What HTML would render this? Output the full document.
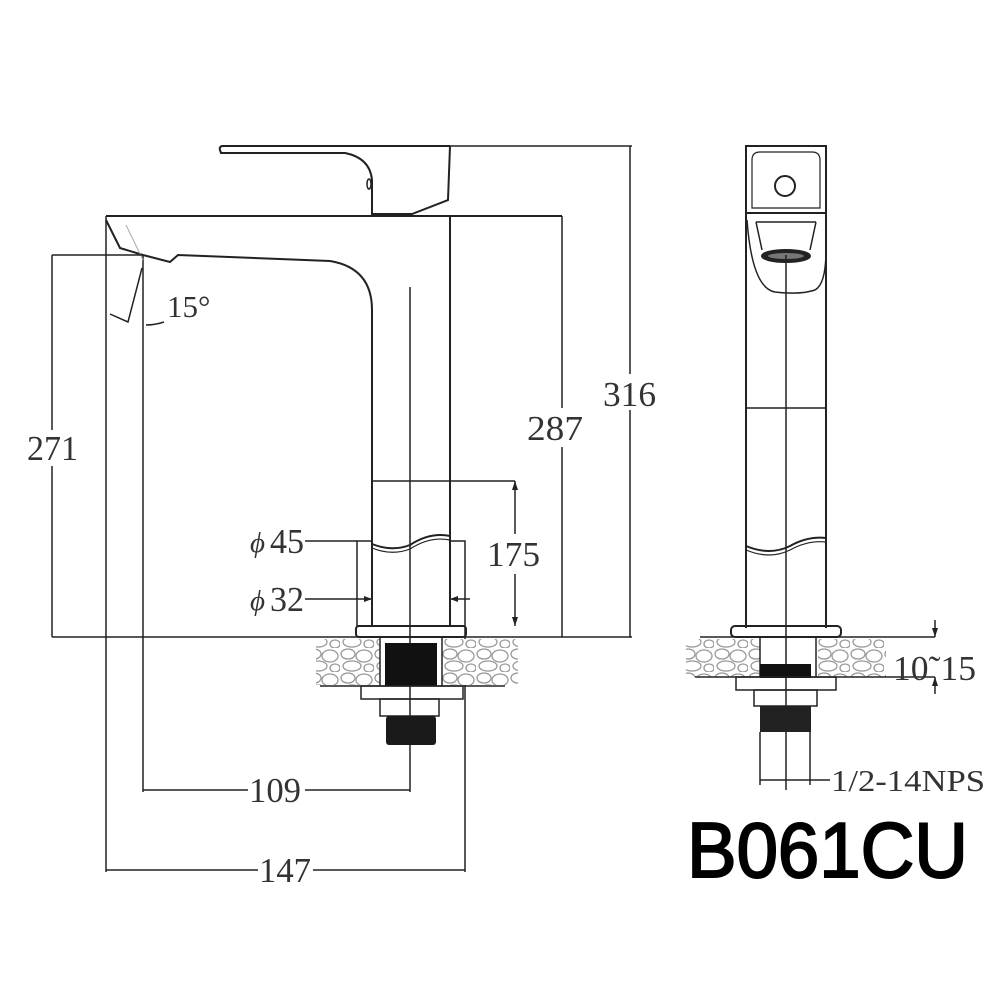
<!DOCTYPE html>
<html><head><meta charset="utf-8"><style>
html,body{margin:0;padding:0;background:#fff;}
svg{display:block}
text{font-family:"Liberation Serif",serif;fill:#333}
</style></head><body>
<svg width="1000" height="1000" viewBox="0 0 1000 1000" xmlns="http://www.w3.org/2000/svg">
<defs>
<pattern id="stone" width="34" height="24" patternUnits="userSpaceOnUse">
<rect width="34" height="24" fill="#fff"/>
<g fill="none" stroke="#999" stroke-width="1.3">
<ellipse cx="8" cy="6" rx="7" ry="5"/>
<ellipse cx="24" cy="8" rx="8" ry="6"/>
<ellipse cx="12" cy="18" rx="9" ry="5"/>
<ellipse cx="29" cy="20" rx="5" ry="4"/>
</g>
</pattern>
</defs>
<g stroke="#222" stroke-width="2" fill="none">
<path d="M450,146 L222,146 Q219,147 220,150 L221,153 L345,153 Q370,158 372,180 L372,214 L412,214 L448,200 L450,146"/>
<ellipse cx="369" cy="184" rx="2" ry="5" stroke-width="1.5"/>
<line x1="450" y1="146" x2="632" y2="146" stroke-width="1.5"/>
<line x1="106" y1="216" x2="562" y2="216"/>
<line x1="106" y1="216" x2="106" y2="872" stroke-width="1.5"/>
<line x1="450" y1="216" x2="450" y2="626"/>
<path d="M106,220 L120,248 L143,255 L170,262 L178,255 L330,261 Q372,268 372,310 L372,626"/>
<line x1="143" y1="255" x2="143" y2="792" stroke-width="1.5"/>
<line x1="126" y1="225" x2="143" y2="260" stroke="#aaa" stroke-width="1"/>
<path d="M142,268 L128,322 L110,314" stroke-width="1.5"/>
<path d="M146,325 Q155,325 164,322" stroke-width="1.5"/>
<line x1="410" y1="287" x2="410" y2="792" stroke-width="1.5"/>
<line x1="52" y1="255" x2="143" y2="255" stroke-width="1.5"/>
<line x1="52" y1="255" x2="52" y2="430" stroke-width="1.5"/>
<line x1="52" y1="466" x2="52" y2="637" stroke-width="1.5"/>
<line x1="52" y1="637" x2="632" y2="637" stroke-width="1.5"/>
<line x1="562" y1="216" x2="562" y2="408" stroke-width="1.5"/>
<line x1="562" y1="447" x2="562" y2="637" stroke-width="1.5"/>
<line x1="630" y1="146" x2="630" y2="374" stroke-width="1.5"/>
<line x1="630" y1="410" x2="630" y2="637" stroke-width="1.5"/>
<line x1="372" y1="481" x2="515" y2="481" stroke-width="1.5"/>
<line x1="515" y1="481" x2="515" y2="534" stroke-width="1.5"/>
<line x1="515" y1="574" x2="515" y2="626" stroke-width="1.5"/>
<path d="M372,544 Q392,552 410,545 Q430,532 450,536" stroke-width="2"/>
<path d="M372,548 Q392,556 410,549 Q430,536 450,540" stroke-width="1.2"/>
<path d="M357,626 L357,541 L372,541 M450,541 L465,541 L465,872" stroke-width="1.5"/>
<line x1="305" y1="541" x2="357" y2="541" stroke-width="1.5"/>
<line x1="305" y1="599" x2="372" y2="599" stroke-width="1.5"/>
<line x1="450" y1="599" x2="470" y2="599" stroke-width="1.5"/>
<rect x="356" y="626" width="110" height="11" rx="3"/>
<rect x="316" y="639" width="64" height="46" fill="url(#stone)" stroke="none"/>
<rect x="442" y="639" width="76" height="46" fill="url(#stone)" stroke="none"/>
<line x1="320" y1="686" x2="505" y2="686" stroke-width="1.5"/>
<line x1="380" y1="637" x2="380" y2="686" stroke-width="1.5"/>
<line x1="442" y1="637" x2="442" y2="686" stroke-width="1.5"/>
<rect x="385" y="643" width="52" height="43" fill="#111" stroke="none"/>
<rect x="361" y="686" width="102" height="13" stroke-width="1.5"/>
<rect x="380" y="699" width="59" height="17" stroke-width="1.5"/>
<rect x="386" y="716" width="50" height="29" rx="3" fill="#1a1a1a" stroke="none"/>
<line x1="143" y1="790" x2="248" y2="790" stroke-width="1.5"/>
<line x1="305" y1="790" x2="410" y2="790" stroke-width="1.5"/>
<line x1="106" y1="870" x2="258" y2="870" stroke-width="1.5"/>
<line x1="313" y1="870" x2="465" y2="870" stroke-width="1.5"/>

<rect x="746" y="146" width="80" height="67"/>
<path d="M752,160 Q752,152 760,152 L812,152 Q820,152 820,160 L820,208 L752,208 Z" stroke-width="1.2"/>
<circle cx="785" cy="186" r="10"/>
<line x1="746" y1="213" x2="746" y2="628"/>
<line x1="826" y1="213" x2="826" y2="628"/>
<path d="M747,220 Q752,288 775,292 Q800,295 815,290 Q826,284 826,250" stroke-width="1.5"/>
<path d="M756,222 L762,250 M816,222 L810,250 M756,222 L816,222" stroke-width="1.5"/>
<ellipse cx="786" cy="256" rx="24" ry="6" fill="#222"/>
<ellipse cx="786" cy="256" rx="18" ry="3" fill="#777" stroke="none"/>
<line x1="786" y1="255" x2="786" y2="790" stroke-width="1.5"/>
<line x1="746" y1="408" x2="826" y2="408" stroke-width="1.5"/>
<path d="M746,546 Q770,556 790,546 Q808,536 826,538" stroke-width="2"/>
<path d="M746,550 Q770,560 790,550 Q808,540 826,542" stroke-width="1.2"/>
<rect x="731" y="626" width="110" height="11" rx="4"/>
<rect x="686" y="639" width="74" height="38" fill="url(#stone)" stroke="none"/>
<rect x="818" y="639" width="68" height="38" fill="url(#stone)" stroke="none"/>
<line x1="700" y1="637" x2="935" y2="637" stroke-width="1.5"/>
<line x1="695" y1="677" x2="935" y2="677" stroke-width="1.5"/>
<line x1="760" y1="637" x2="760" y2="677" stroke-width="1.5"/>
<line x1="816" y1="637" x2="816" y2="677" stroke-width="1.5"/>
<rect x="760" y="664" width="51" height="14" fill="#111" stroke="none"/>
<rect x="736" y="677" width="100" height="13" stroke-width="1.5"/>
<rect x="754" y="690" width="63" height="16" stroke-width="1.5"/>
<rect x="760" y="706" width="51" height="26" fill="#222" stroke="none"/>
<line x1="760" y1="732" x2="760" y2="785" stroke-width="1.5"/>
<line x1="810" y1="732" x2="810" y2="785" stroke-width="1.5"/>
<line x1="760" y1="780" x2="830" y2="780" stroke-width="1.5"/>
<line x1="935" y1="620" x2="935" y2="637" stroke-width="1.5"/>
<line x1="935" y1="677" x2="935" y2="694" stroke-width="1.5"/>
</g>
<g fill="#222">
<path d="M935,637 L932,628 L938,628 Z"/>
<path d="M935,677 L932,686 L938,686 Z"/>
<path d="M515,481 L512,490 L518,490 Z"/>
<path d="M515,626 L512,617 L518,617 Z"/>
<path d="M372,599 L364,596 L364,602 Z"/>
<path d="M450,599 L458,596 L458,602 Z"/>
</g>
<g font-size="35">
<text x="167" y="317" font-size="31">15°</text>
<text x="27" y="460" textLength="51" lengthAdjust="spacingAndGlyphs">271</text>
<text x="527" y="440" textLength="56" lengthAdjust="spacingAndGlyphs">287</text>
<text x="603" y="406" textLength="53" lengthAdjust="spacingAndGlyphs">316</text>
<text x="487" y="566" textLength="53" lengthAdjust="spacingAndGlyphs">175</text>
<text x="250" y="552" font-size="29" font-style="italic">ϕ</text><text x="270" y="553" textLength="34" lengthAdjust="spacingAndGlyphs">45</text>
<text x="250" y="610" font-size="29" font-style="italic">ϕ</text><text x="270" y="611" textLength="34" lengthAdjust="spacingAndGlyphs">32</text>
<text x="249" y="802" textLength="52" lengthAdjust="spacingAndGlyphs">109</text>
<text x="259" y="882" textLength="52" lengthAdjust="spacingAndGlyphs">147</text>
<text x="893" y="680" textLength="83" lengthAdjust="spacingAndGlyphs">10˜15</text>
<text x="831" y="791" font-size="31" textLength="154" lengthAdjust="spacingAndGlyphs">1/2-14NPS</text>
</g>
<text x="687" y="877" font-size="78" textLength="281" lengthAdjust="spacingAndGlyphs" style="font-family:'Liberation Sans',sans-serif;fill:#000;stroke:#000;stroke-width:2">B061CU</text>
</svg>
</body></html>
